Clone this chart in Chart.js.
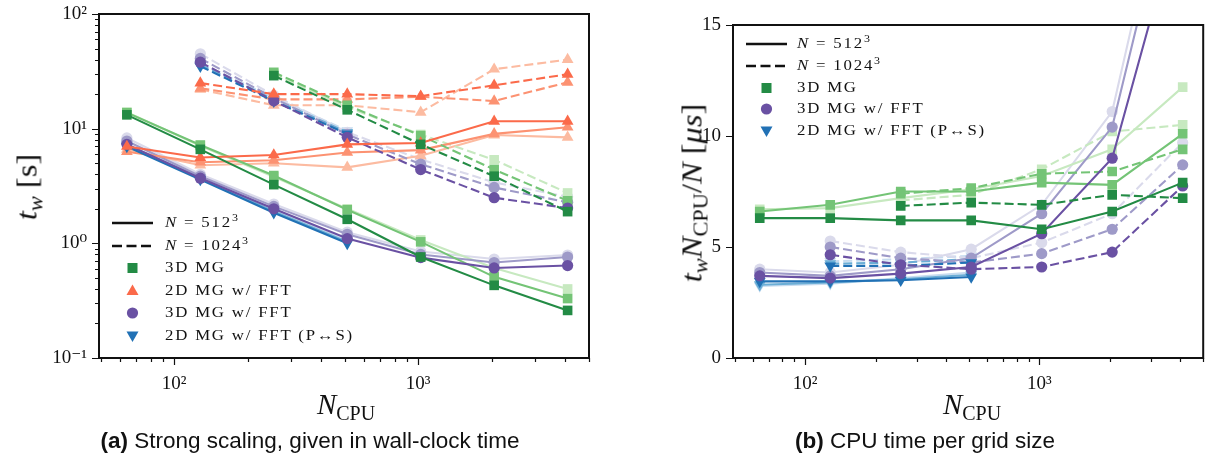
<!DOCTYPE html>
<html><head><meta charset="utf-8">
<script src="https://cdn.jsdelivr.net/npm/chart.js@4.4.1/dist/chart.umd.min.js"></script>
<style>
html,body{margin:0;padding:0;background:#fff;}
#wrap{position:relative;width:1210px;height:459px;overflow:hidden;background:#fff;}
canvas{position:absolute;top:0;}
.t{position:absolute;font-family:'Liberation Serif','DejaVu Serif',serif;color:#111;white-space:nowrap;line-height:1;}
.leg{font-size:14px;letter-spacing:1.5px;transform:scaleX(1.2);transform-origin:0 50%;}
.leg sup{font-size:10px;vertical-align:6px;line-height:0;}
.sym{position:absolute;}
.cap{position:absolute;font-family:'Liberation Sans',Arial,sans-serif;font-size:22.5px;color:#111;white-space:nowrap;line-height:1;}
.ax{font-size:29px;}
.ax sub{font-size:20px;vertical-align:-6px;line-height:0;font-style:normal;}
.rot{transform:translate(-50%,-50%) rotate(-90deg) scaleX(1.12);}
</style></head>
<body><div id="wrap">
<canvas id="cA" width="600" height="459" style="left:0"></canvas>
<canvas id="cB" width="600" height="459" style="left:610px"></canvas>
</div>
<script>
// ---------------- data ----------------
const nCpuAll   = [64, 128, 256, 512, 1024, 2048, 4096];
const nCpuFrom128 = [128, 256, 512, 1024, 2048, 4096];
const nCpuFrom256 = [256, 512, 1024, 2048, 4096];
const nCpuPS512  = [64, 128, 256, 512];
const nCpuPS1024 = [128, 256, 512];

// (a) wall-clock time t_w [s]; shades: dark, medium, light
const mg512_a   = [[13.2, 6.6, 3.25, 1.62, 0.76, 0.43, 0.26],
                   [13.8, 7.2, 3.9, 1.96, 1.03, 0.51, 0.33],
                   [13.9, 7.1, 3.8, 2.0, 1.07, 0.61, 0.40]];
const mg1024_a  = [[29, 14.6, 7.3, 3.85, 1.89],
                   [31, 16, 8.7, 4.4, 2.35],
                   [30, 15.4, 8.9, 5.35, 2.75]];
const fft2d512_a  = [[7.0, 5.6, 5.9, 7.3, 7.5, 11.6, 11.6],
                     [6.3, 5.1, 5.3, 6.2, 6.5, 9.0, 10.3],
                     [6.6, 4.8, 5.0, 4.6, 5.8, 8.8, 8.4]];
const fft2d1024_a = [[25, 20, 20, 19.2, 23.9, 29.8],
                     [22.5, 18, 18, 19, 17.4, 25.4],
                     [22, 16, 16, 13.9, 33, 40]];
const fft3d512_a  = [[7.3, 3.7, 2.0, 1.1, 0.75, 0.61, 0.64],
                     [7.8, 3.85, 2.1, 1.2, 0.8, 0.68, 0.76],
                     [8.3, 4.0, 2.2, 1.25, 0.85, 0.73, 0.79]];
const fft3d1024_a = [[38, 17.5, 8.4, 4.4, 2.5, 2.03],
                     [41, 18.5, 8.9, 4.9, 3.07, 2.28],
                     [45, 19.5, 9.3, 5.4, 3.4, 2.55]];
const ps512_a  = [[7.0, 3.6, 1.85, 1.0],
                  [7.2, 3.7, 1.9, 1.03],
                  [7.3, 3.75, 1.95, 1.05]];
const ps1024_a = [[35, 17.4, 9.0],
                  [36, 18, 9.3],
                  [37, 18.7, 9.6]];

// (b) CPU time per grid size [us]
const mg512_b   = [[6.3, 6.3, 6.2, 6.2, 5.8, 6.6, 7.9],
                   [6.6, 6.9, 7.5, 7.5, 7.9, 7.8, 10.1],
                   [6.7, 6.75, 7.2, 7.6, 8.2, 9.4, 12.2]];
const mg1024_b  = [[6.85, 7.0, 6.9, 7.35, 7.2],
                   [7.4, 7.65, 8.3, 8.4, 9.4],
                   [7.1, 7.35, 8.5, 10.2, 10.5]];
const fft3d512_b  = [[3.7, 3.6, 3.8, 4.1, 5.6, 9.0, 20.5],
                     [3.85, 3.7, 4.0, 4.5, 6.5, 10.4, 23.5],
                     [4.0, 3.85, 4.2, 4.9, 6.9, 11.1, 25]];
const fft3d1024_b = [[4.65, 4.2, 4.0, 4.1, 4.77, 7.75],
                     [5.0, 4.5, 4.3, 4.7, 5.8, 8.7],
                     [5.27, 4.77, 4.5, 5.2, 6.5, 9.7]];
const ps512_b  = [[3.45, 3.45, 3.5, 3.65],
                  [3.3, 3.4, 3.55, 3.75],
                  [3.25, 3.35, 3.6, 3.85]];
const ps1024_b = [[4.15, 4.15, 4.3],
                  [4.25, 4.3, 4.45],
                  [4.35, 4.45, 4.6]];

// ticks
const xTickValues = [50,60,70,80,90,100,200,300,400,500,600,700,800,900,1000,2000,3000,4000,5000];
const xTickLabels = {100:'10²', 1000:'10³'};
const yTickValuesA = [0.1,0.2,0.3,0.4,0.5,0.6,0.7,0.8,0.9,1,2,3,4,5,6,7,8,9,10,20,30,40,50,60,70,80,90,100];
const yTickLabelsA = {0.1:'10⁻¹', 1:'10⁰', 10:'10¹', 100:'10²'};
const yTickValuesB = [0, 5, 10, 15];
const yTickLabelsB = {0:'0', 5:'5', 10:'10', 15:'15'};

// ---------------- styles ----------------
const GREEN  = ['#238b45','#74c476','#c7e9c0'];
const ORANGE = ['#fb6a4a','#fc9272','#fcbba1'];
const PURPLE = ['#6a51a3','#9e9ac8','#dadaeb'];
const BLUE   = ['#2171b5','#6baed6','#c6dbef'];
const MK = {
  sq:  {style:'rect', r:6.8, rot:0},
  up:  {style:'triangle', r:6.8, rot:0},
  ci:  {style:'circle', r:5.6, rot:0},
  dn:  {style:'triangle', r:6.8, rot:180}
};
const DASH = [9, 4];
const XMIN = 49.2, XMAX = 5012;

function ds(xs, ys, color, mk, dashed){
  return {
    data: xs.map((x,i)=>({x:x, y:ys[i]})),
    borderColor: color, backgroundColor: color,
    pointBackgroundColor: color, pointBorderColor: color, pointBorderWidth: 0,
    pointStyle: mk.style, pointRadius: mk.r, pointRotation: mk.rot, pointHoverRadius: mk.r,
    borderWidth: 2.1, borderDash: dashed ? DASH : [], tension: 0, clip: 0, spanGaps: true
  };
}

function buildA(){
  const out = [];
  for (let s=0; s<3; s++){
    out.push(ds(nCpuAll, mg512_a[s], GREEN[s], MK.sq, false));
    out.push(ds(nCpuFrom256, mg1024_a[s], GREEN[s], MK.sq, true));
    out.push(ds(nCpuAll, fft2d512_a[s], ORANGE[s], MK.up, false));
    out.push(ds(nCpuFrom128, fft2d1024_a[s], ORANGE[s], MK.up, true));
    out.push(ds(nCpuAll, fft3d512_a[s], PURPLE[s], MK.ci, false));
    out.push(ds(nCpuFrom128, fft3d1024_a[s], PURPLE[s], MK.ci, true));
    out.push(ds(nCpuPS512, ps512_a[s], BLUE[s], MK.dn, false));
    out.push(ds(nCpuPS1024, ps1024_a[s], BLUE[s], MK.dn, true));
  }
  return out;
}
function buildB(){
  const out = [];
  for (let s=0; s<3; s++){
    out.push(ds(nCpuAll, mg512_b[s], GREEN[s], MK.sq, false));
    out.push(ds(nCpuFrom256, mg1024_b[s], GREEN[s], MK.sq, true));
    out.push(ds(nCpuAll, fft3d512_b[s], PURPLE[s], MK.ci, false));
    out.push(ds(nCpuFrom128, fft3d1024_b[s], PURPLE[s], MK.ci, true));
    out.push(ds(nCpuPS512, ps512_b[s], BLUE[s], MK.dn, false));
    out.push(ds(nCpuPS1024, ps1024_b[s], BLUE[s], MK.dn, true));
  }
  return out;
}

function isMajorLog(v){ const l = Math.log10(v); return Math.abs(l-Math.round(l)) < 1e-9; }

const frame = {
  id:'frame',
  afterDatasetsDraw(chart, args, opts){
    const {ctx, chartArea:a} = chart;
    const x = chart.scales.x, y = chart.scales.y;
    ctx.save();
    ctx.strokeStyle = '#111';
    ctx.lineWidth = 1.2;
    ctx.beginPath();
    x.ticks.forEach(t=>{
      if (t.value < XMIN || t.value > XMAX) return;
      const px = Math.round(x.getPixelForValue(t.value))+0.5;
      const L = isMajorLog(t.value) ? 7 : 4;
      ctx.moveTo(px, a.bottom); ctx.lineTo(px, a.bottom+L);
    });
    y.ticks.forEach(t=>{
      const py = Math.round(y.getPixelForValue(t.value))+0.5;
      const L = (opts.ylog ? isMajorLog(t.value) : true) ? 7 : 4;
      ctx.moveTo(a.left, py); ctx.lineTo(a.left-L, py);
    });
    ctx.stroke();
    ctx.lineWidth = 2;
    ctx.strokeStyle = '#111';
    ctx.strokeRect(a.left, a.top, a.right-a.left, a.bottom-a.top);
    ctx.restore();
  }
};

const TICKFONT = {family:"'Liberation Serif', 'DejaVu Serif', serif", size:19};
function noPad(s){ s.paddingTop = 0; s.paddingBottom = 0; s.paddingLeft = 0; s.paddingRight = 0; }

function makeChart(id, datasets, cfg){
  return new Chart(document.getElementById(id), {
    type:'line',
    data:{datasets},
    plugins:[frame],
    options:{
      responsive:false, animation:false, events:[],
      layout:{padding:{left:0, top:cfg.top, right:cfg.right, bottom:0}},
      plugins:{legend:{display:false}, tooltip:{enabled:false}, frame:{ylog:cfg.ylog}},
      scales:{
        x:{type:'logarithmic', min:XMIN, max:XMAX,
           grid:{display:false, drawTicks:false}, border:{display:false},
           afterBuildTicks:(s)=>{ s.ticks = xTickValues.filter(v=>v>=XMIN && v<=XMAX).map(v=>({value:v})); },
           ticks:{autoSkip:false, maxRotation:0, minRotation:0, padding:15, color:'#111', font:TICKFONT,
                  callback:(v)=> xTickLabels[v] || ''},
           afterFit:(s)=>{ s.height = 101; noPad(s); }},
        y:{type: cfg.ylog ? 'logarithmic' : 'linear', min: cfg.ymin, max: cfg.ymax,
           grid:{display:false, drawTicks:false}, border:{display:false},
           afterBuildTicks:(s)=>{ s.ticks = cfg.yTicks.map(v=>({value:v})); },
           ticks:{autoSkip:false, padding:12, color:'#111', font:TICKFONT,
                  callback:(v)=> (cfg.yLabels[v] !== undefined ? cfg.yLabels[v] : '')},
           afterFit:(s)=>{ s.width = cfg.yw; noPad(s); }}
      }
    }
  });
}

makeChart('cA', buildA(), {top:14, right:11, ylog:true, ymin:0.1, ymax:100, yTicks:yTickValuesA, yLabels:yTickLabelsA, yw:99});
makeChart('cB', buildB(), {top:25, right:3, ylog:false, ymin:0, ymax:15, yTicks:yTickValuesB, yLabels:yTickLabelsB, yw:123});

// ---------------- HTML text: legends, axis titles, captions ----------------
const wrap = document.getElementById('wrap');
function add(html, cls, style){
  const d = document.createElement('div');
  d.className = cls; d.innerHTML = html;
  Object.assign(d.style, style);
  wrap.appendChild(d); return d;
}
function symSvg(kind, color){
  let inner = '';
  if (kind==='solid') inner = `<line x1="1" y1="10" x2="42" y2="10" stroke="#111" stroke-width="2.4"/>`;
  else if (kind==='dash') inner = `<line x1="1" y1="10" x2="42" y2="10" stroke="#111" stroke-width="2.4" stroke-dasharray="10 4.5"/>`;
  else if (kind==='sq') inner = `<rect x="16.5" y="5" width="10" height="10" fill="${color}"/>`;
  else if (kind==='up') inner = `<polygon points="21.5,3.5 27.5,14 15.5,14" fill="${color}"/>`;
  else if (kind==='ci') inner = `<circle cx="21.5" cy="10" r="5.6" fill="${color}"/>`;
  else if (kind==='dn') inner = `<polygon points="15.5,5.5 27.5,5.5 21.5,16" fill="${color}"/>`;
  return `<svg width="44" height="20" viewBox="0 0 44 20">${inner}</svg>`;
}
const legendA = [
  ['solid', null, '<i>N</i> = 512<sup>3</sup>'],
  ['dash', null, '<i>N</i> = 1024<sup>3</sup>'],
  ['sq', GREEN[0], '3D MG'],
  ['up', ORANGE[0], '2D MG w/ FFT'],
  ['ci', PURPLE[0], '3D MG w/ FFT'],
  ['dn', BLUE[0], '2D MG w/ FFT (P↔S)']
];
const legendB = [legendA[0], legendA[1], legendA[2], legendA[4], legendA[5]];
function drawLegend(items, x0, y0, dy, tx){
  items.forEach((it,i)=>{
    const yc = y0 + i*dy;
    add(symSvg(it[0], it[1]), 'sym', {left:x0+'px', top:(yc-10)+'px'});
    add(it[2], 't leg', {left:tx+'px', top:(yc-8)+'px', height:'16px', lineHeight:'16px'});
  });
}
drawLegend(legendA, 111, 223, 22.6, 165);
drawLegend(legendB, 745, 44, 21.8, 797);

// axis titles
add('<i>N</i><sub>CPU</sub>', 't ax', {left:'346px', top:'404px', transform:'translate(-50%,-50%)'});
add('<i>N</i><sub>CPU</sub>', 't ax', {left:'972px', top:'404px', transform:'translate(-50%,-50%)'});
add('<i>t</i><sub><i>w</i></sub> [s]', 't ax rot', {left:'27px', top:'187px'});
add('<i>t</i><sub><i>w</i></sub><i>N</i><sub>CPU</sub>/<i>N</i> [<i>μs</i>]', 't ax rot', {left:'692px', top:'193px'});

// captions
add('<b>(a)</b> Strong scaling, given in wall-clock time', 'cap', {left:'310px', top:'441px', transform:'translate(-50%,-50%)'});
add('<b>(b)</b> CPU time per grid size', 'cap', {left:'925px', top:'441px', transform:'translate(-50%,-50%)'});
</script>
</body></html>
